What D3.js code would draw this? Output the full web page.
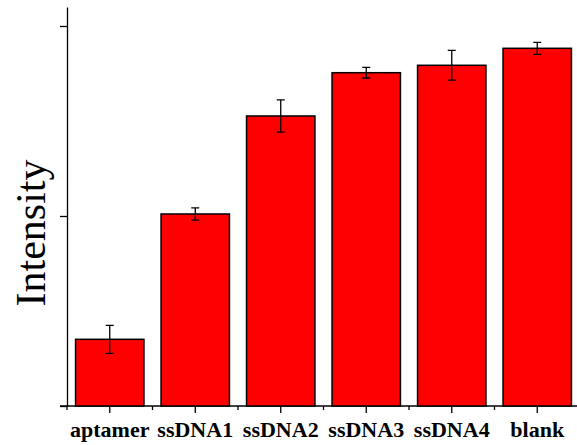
<!DOCTYPE html>
<html>
  <head>
    <meta charset="utf-8">
    <title>Intensity</title>
    <script src="https://cdn.jsdelivr.net/npm/d3@7"></script>
    <style>
      body { margin: 0; background: #fff; }
      svg { display: block; }
      .axis path, .axis line { stroke: #000; stroke-width: 1.3; }
      .bar { fill: #ff0000; stroke: #000; stroke-width: 1.5; }
      .err { stroke: #000; stroke-width: 1.3; fill: none; }
      .catLabel { font-family: "Liberation Serif", "Times New Roman", serif; font-weight: bold; font-size: 22px; }
      .axisLabel { font-family: "Liberation Serif", "Times New Roman", serif; font-size: 42px; }
    </style>
  </head>

  <body>
    <svg id="chart" width="577" height="445"></svg>

    <script>
      // data
      var categories = ["aptamer", "ssDNA1", "ssDNA2", "ssDNA3", "ssDNA4", "blank"];
      var values = [1755, 5053, 7632, 8771, 8966, 9413];
      var errors = [368, 162, 425, 139, 390, 158];
      var yTicks = [0, 5000, 10000];

      var chart = d3.select("#chart");

      var x = d3.scaleBand()
        .domain(categories)
        .range([67, 580])
        .paddingInner(0.2)
        .paddingOuter(0.1);
      var y = d3.scaleLinear()
        .domain([0, 10500])
        .range([406, 7]);

      // y axis
      chart.append("g")
        .attr("class", "axis")
        .attr("transform", "translate(67, 0)")
        .call(d3.axisLeft(y).tickValues(yTicks).tickSize(7).tickSizeOuter(0).tickFormat(""));

      // x axis, major ticks at centres, minor ticks between bands
      var xAxisGroup = chart.append("g")
        .attr("class", "axis")
        .attr("transform", "translate(0, 406)");
      xAxisGroup.call(d3.axisBottom(x).tickSize(7).tickSizeOuter(0).tickFormat(""));
      xAxisGroup.select(".domain").attr("d", "M60,0H577");
      xAxisGroup.selectAll(".minor")
          .data(categories)
        .enter().append("line")
          .attr("class", "minor")
          .attr("x1", function(d) { return x(d) - x.step() * x.paddingInner() / 2; })
          .attr("x2", function(d) { return x(d) - x.step() * x.paddingInner() / 2; })
          .attr("y1", 0)
          .attr("y2", 4);

      chart.selectAll(".catLabel")
          .data(categories)
        .enter().append("text")
          .attr("class", "catLabel")
          .attr("x", function(d) { return x(d) + x.bandwidth() / 2; })
          .attr("y", 437)
          .attr("text-anchor", "middle")
          .text(function(d) { return d; });

      chart.append("text")
        .attr("class", "axisLabel")
        .attr("transform", "translate(45, 233) rotate(-90)")
        .attr("text-anchor", "middle")
        .text("Intensity");

      // bars
      chart.selectAll(".bar")
          .data(categories)
        .enter().append("rect")
          .attr("class", "bar")
          .attr("x", function(d) { return x(d); })
          .attr("width", x.bandwidth())
          .attr("y", function(d, i) { return y(values[i]); })
          .attr("height", function(d, i) { return y(0) - y(values[i]); });

      // error bars
      var errs = chart.selectAll(".errGroup")
          .data(categories)
        .enter().append("g")
          .attr("class", "err");
      errs.append("path")
        .attr("d", function(d, i) {
          var cx = x(d) + x.bandwidth() / 2;
          var hi = y(values[i] + errors[i]);
          var lo = y(values[i] - errors[i]);
          return "M" + cx + "," + hi + "V" + lo +
            "M" + (cx - 4) + "," + hi + "H" + (cx + 4) +
            "M" + (cx - 4) + "," + lo + "H" + (cx + 4);
        });
    </script>
  </body>
</html>
